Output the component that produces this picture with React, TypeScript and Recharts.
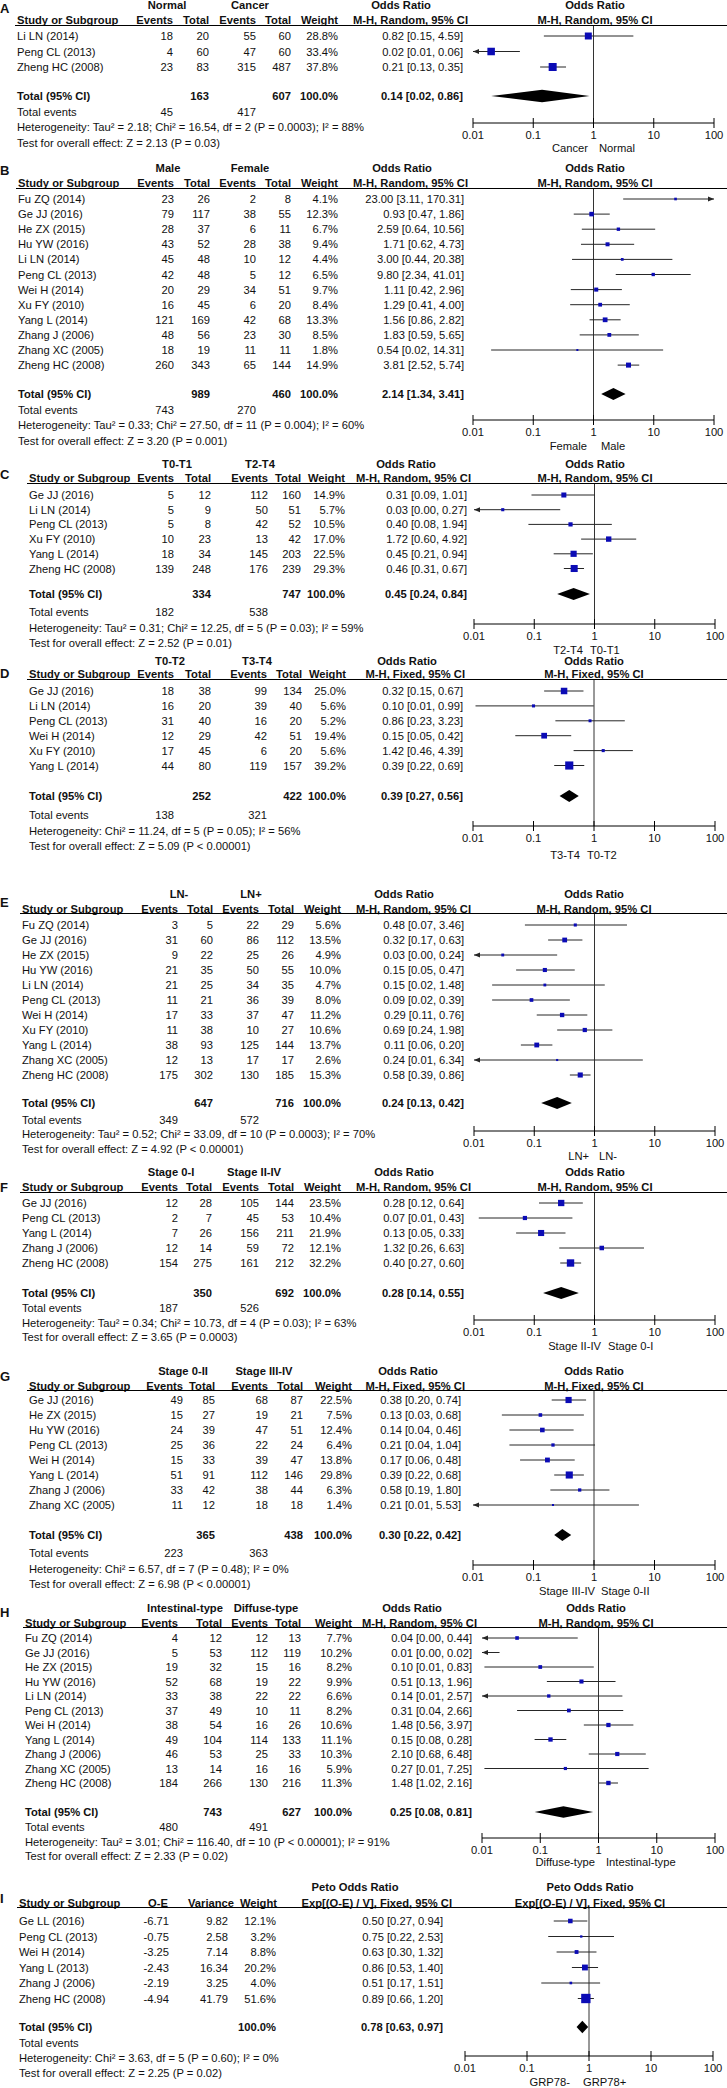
import React from 'react';
import { ScatterChart, Scatter, XAxis, YAxis, ReferenceLine, ReferenceArea } from 'recharts';

const W = 727;
const H = 2088;
const FONT = '"Liberation Sans", Arial, Helvetica, sans-serif';
const FS = 11.2;
const BLUE = '#0b0bb5';
const CI = '#262626';
const TICKS = [0.01, 0.1, 1, 10, 100];

// ---------- Panel A ----------
const A_STUDY = ['Li LN (2014)', 'Peng CL (2013)', 'Zheng HC (2008)'];
const A_E1 = [18, 4, 23];
const A_T1 = [20, 60, 83];
const A_E2 = [55, 47, 315];
const A_T2 = [60, 60, 487];
const A_W = [28.8, 33.4, 37.8];
const A_OR = [0.82, 0.02, 0.21];
const A_LO = [0.15, 0.008, 0.13];
const A_HI = [4.59, 0.06, 0.35];
const A_POOL = [0.14, 0.02, 0.86];
const A_TOT = [163, 607];
const A_TEV = [45, 417];

// ---------- Panel B ----------
const B_STUDY = ['Fu ZQ (2014)', 'Ge JJ (2016)', 'He ZX (2015)', 'Hu YW (2016)', 'Li LN (2014)', 'Peng CL (2013)', 'Wei H (2014)', 'Xu FY (2010)', 'Yang L (2014)', 'Zhang J (2006)', 'Zhang XC (2005)', 'Zheng HC (2008)'];
const B_E1 = [23, 79, 28, 43, 45, 42, 20, 16, 121, 48, 18, 260];
const B_T1 = [26, 117, 37, 52, 48, 48, 29, 45, 169, 56, 19, 343];
const B_E2 = [2, 38, 6, 28, 10, 5, 34, 6, 42, 23, 11, 65];
const B_T2 = [8, 55, 11, 38, 12, 12, 51, 20, 68, 30, 11, 144];
const B_W = [4.1, 12.3, 6.7, 9.4, 4.4, 6.5, 9.7, 8.4, 13.3, 8.5, 1.8, 14.9];
const B_OR = [23.0, 0.93, 2.59, 1.71, 3.0, 9.8, 1.11, 1.29, 1.56, 1.83, 0.54, 3.81];
const B_LO = [3.11, 0.47, 0.64, 0.62, 0.44, 2.34, 0.42, 0.41, 0.86, 0.59, 0.02, 2.52];
const B_HI = [170.31, 1.86, 10.56, 4.73, 20.38, 41.01, 2.96, 4.0, 2.82, 5.65, 14.31, 5.74];
const B_POOL = [2.14, 1.34, 3.41];
const B_TOT = [989, 460];
const B_TEV = [743, 270];

// ---------- Panel C ----------
const C_STUDY = ['Ge JJ (2016)', 'Li LN (2014)', 'Peng CL (2013)', 'Xu FY (2010)', 'Yang L (2014)', 'Zheng HC (2008)'];
const C_E1 = [5, 5, 5, 10, 18, 139];
const C_T1 = [12, 9, 8, 23, 34, 248];
const C_E2 = [112, 50, 42, 13, 145, 176];
const C_T2 = [160, 51, 52, 42, 203, 239];
const C_W = [14.9, 5.7, 10.5, 17.0, 22.5, 29.3];
const C_OR = [0.31, 0.03, 0.4, 1.72, 0.45, 0.46];
const C_LO = [0.09, 0.003, 0.08, 0.6, 0.21, 0.31];
const C_HI = [1.01, 0.27, 1.94, 4.92, 0.94, 0.67];
const C_POOL = [0.45, 0.24, 0.84];
const C_TOT = [334, 747];
const C_TEV = [182, 538];

// ---------- Panel D ----------
const D_STUDY = ['Ge JJ (2016)', 'Li LN (2014)', 'Peng CL (2013)', 'Wei H (2014)', 'Xu FY (2010)', 'Yang L (2014)'];
const D_E1 = [18, 16, 31, 12, 17, 44];
const D_T1 = [38, 20, 40, 29, 45, 80];
const D_E2 = [99, 39, 16, 42, 6, 119];
const D_T2 = [134, 40, 20, 51, 20, 157];
const D_W = [25.0, 5.6, 5.2, 19.4, 5.6, 39.2];
const D_OR = [0.32, 0.1, 0.86, 0.15, 1.42, 0.39];
const D_LO = [0.15, 0.011, 0.23, 0.05, 0.46, 0.22];
const D_HI = [0.67, 0.99, 3.23, 0.42, 4.39, 0.69];
const D_POOL = [0.39, 0.27, 0.56];
const D_TOT = [252, 422];
const D_TEV = [138, 321];

// ---------- Panel E ----------
const E_STUDY = ['Fu ZQ (2014)', 'Ge JJ (2016)', 'He ZX (2015)', 'Hu YW (2016)', 'Li LN (2014)', 'Peng CL (2013)', 'Wei H (2014)', 'Xu FY (2010)', 'Yang L (2014)', 'Zhang XC (2005)', 'Zheng HC (2008)'];
const E_E1 = [3, 31, 9, 21, 21, 11, 17, 11, 38, 12, 175];
const E_T1 = [5, 60, 22, 35, 25, 21, 33, 38, 93, 13, 302];
const E_E2 = [22, 86, 25, 50, 34, 36, 37, 10, 125, 17, 130];
const E_T2 = [29, 112, 26, 55, 35, 39, 47, 27, 144, 17, 185];
const E_W = [5.6, 13.5, 4.9, 10.0, 4.7, 8.0, 11.2, 10.6, 13.7, 2.6, 15.3];
const E_OR = [0.48, 0.32, 0.03, 0.15, 0.15, 0.09, 0.29, 0.69, 0.11, 0.24, 0.58];
const E_LO = [0.07, 0.17, 0.003, 0.05, 0.02, 0.02, 0.11, 0.24, 0.06, 0.008, 0.39];
const E_HI = [3.46, 0.63, 0.24, 0.47, 1.48, 0.39, 0.76, 1.98, 0.2, 6.34, 0.86];
const E_POOL = [0.24, 0.13, 0.42];
const E_TOT = [647, 716];
const E_TEV = [349, 572];

// ---------- Panel F ----------
const F_STUDY = ['Ge JJ (2016)', 'Peng CL (2013)', 'Yang L (2014)', 'Zhang J (2006)', 'Zheng HC (2008)'];
const F_E1 = [12, 2, 7, 12, 154];
const F_T1 = [28, 7, 26, 14, 275];
const F_E2 = [105, 45, 156, 59, 161];
const F_T2 = [144, 53, 211, 72, 212];
const F_W = [23.5, 10.4, 21.9, 12.1, 32.2];
const F_OR = [0.28, 0.07, 0.13, 1.32, 0.4];
const F_LO = [0.12, 0.012, 0.05, 0.26, 0.27];
const F_HI = [0.64, 0.43, 0.33, 6.63, 0.6];
const F_POOL = [0.28, 0.14, 0.55];
const F_TOT = [350, 692];
const F_TEV = [187, 526];

// ---------- Panel G ----------
const G_STUDY = ['Ge JJ (2016)', 'He ZX (2015)', 'Hu YW (2016)', 'Peng CL (2013)', 'Wei H (2014)', 'Yang L (2014)', 'Zhang J (2006)', 'Zhang XC (2005)'];
const G_E1 = [49, 15, 24, 25, 15, 51, 33, 11];
const G_T1 = [85, 27, 39, 36, 33, 91, 42, 12];
const G_E2 = [68, 19, 47, 22, 39, 112, 38, 18];
const G_T2 = [87, 21, 51, 24, 47, 146, 44, 18];
const G_W = [22.5, 7.5, 12.4, 6.4, 13.8, 29.8, 6.3, 1.4];
const G_OR = [0.38, 0.13, 0.14, 0.21, 0.17, 0.39, 0.58, 0.21];
const G_LO = [0.2, 0.03, 0.04, 0.04, 0.06, 0.22, 0.19, 0.008];
const G_HI = [0.74, 0.68, 0.46, 1.04, 0.48, 0.68, 1.8, 5.53];
const G_POOL = [0.3, 0.22, 0.42];
const G_TOT = [365, 438];
const G_TEV = [223, 363];

// ---------- Panel H ----------
const H_STUDY = ['Fu ZQ (2014)', 'Ge JJ (2016)', 'He ZX (2015)', 'Hu YW (2016)', 'Li LN (2014)', 'Peng CL (2013)', 'Wei H (2014)', 'Yang L (2014)', 'Zhang J (2006)', 'Zhang XC (2005)', 'Zheng HC (2008)'];
const H_E1 = [4, 5, 19, 52, 33, 37, 38, 49, 46, 13, 184];
const H_T1 = [12, 53, 32, 68, 38, 49, 54, 104, 53, 14, 266];
const H_E2 = [12, 112, 15, 19, 22, 10, 16, 114, 25, 16, 130];
const H_T2 = [13, 119, 16, 22, 22, 11, 26, 133, 33, 16, 216];
const H_W = [7.7, 10.2, 8.2, 9.9, 6.6, 8.2, 10.6, 11.1, 10.3, 5.9, 11.3];
const H_OR = [0.04, 0.009, 0.1, 0.51, 0.14, 0.31, 1.48, 0.15, 2.1, 0.27, 1.48];
const H_LO = [0.003, 0.002, 0.011, 0.13, 0.008, 0.04, 0.56, 0.08, 0.68, 0.011, 1.02];
const H_HI = [0.44, 0.02, 0.83, 1.96, 2.57, 2.66, 3.97, 0.28, 6.48, 7.25, 2.16];
const H_POOL = [0.25, 0.08, 0.81];
const H_TOT = [743, 627];
const H_TEV = [480, 491];

// ---------- Panel I (Peto) ----------
const I_STUDY = ['Ge LL (2016)', 'Peng CL (2013)', 'Wei H (2014)', 'Yang L (2013)', 'Zhang J (2006)', 'Zheng HC (2008)'];
const I_OE = [-6.71, -0.75, -3.25, -2.43, -2.19, -4.94];
const I_VAR = [9.82, 2.58, 7.14, 16.34, 3.25, 41.79];
const I_W = [12.1, 3.2, 8.8, 20.2, 4.0, 51.6];
const I_OR = [0.5, 0.75, 0.63, 0.86, 0.51, 0.89];
const I_LO = [0.27, 0.22, 0.3, 0.53, 0.17, 0.66];
const I_HI = [0.94, 2.53, 1.32, 1.4, 1.51, 1.2];
const I_POOL = [0.78, 0.63, 0.97];

const f2 = (v: number) => v.toFixed(2);
const orText = (o: number, l: number, h: number) => `${f2(o)} [${f2(l)}, ${f2(h)}]`;
const pct = (w: number) => `${w.toFixed(1)}%`;

type PanelData = {
  letter: string;
  groups: string[];
  orTitle: string;
  method: string;
  heads: string[];
  study: string[];
  cells: string[][];
  weights: number[];
  ors: number[];
  lows: number[];
  highs: number[];
  totalCells: string[];
  eventCells: string[];
  pool: number[];
  het: string;
  test: string;
  left: string;
  right: string;
};

function mh(
  letter: string, g1: string, g2: string, method: string, study: string[],
  e1: number[], t1: number[], e2: number[], t2: number[], w: number[],
  or: number[], lo: number[], hi: number[], pool: number[], tot: number[], tev: number[],
  het: string, test: string, left: string, right: string
): PanelData {
  return {
    letter, groups: [g1, g2], orTitle: 'Odds Ratio', method,
    heads: ['Events', 'Total', 'Events', 'Total', 'Weight'],
    study,
    cells: study.map((_, i) => [String(e1[i]), String(t1[i]), String(e2[i]), String(t2[i]), pct(w[i])]),
    weights: w, ors: or, lows: lo, highs: hi,
    totalCells: ['', String(tot[0]), '', String(tot[1]), '100.0%'],
    eventCells: [String(tev[0]), '', String(tev[1]), '', ''],
    pool, het, test, left, right,
  };
}

const RND = 'M-H, Random, 95% CI';
const FIX = 'M-H, Fixed, 95% CI';

const DATA: PanelData[] = [
  mh('A', 'Normal', 'Cancer', RND, A_STUDY, A_E1, A_T1, A_E2, A_T2, A_W, A_OR, A_LO, A_HI, A_POOL, A_TOT, A_TEV,
    'Heterogeneity: Tau² = 2.18; Chi² = 16.54, df = 2 (P = 0.0003); I² = 88%', 'Test for overall effect: Z = 2.13 (P = 0.03)', 'Cancer', 'Normal'),
  mh('B', 'Male', 'Female', RND, B_STUDY, B_E1, B_T1, B_E2, B_T2, B_W, B_OR, B_LO, B_HI, B_POOL, B_TOT, B_TEV,
    'Heterogeneity: Tau² = 0.33; Chi² = 27.50, df = 11 (P = 0.004); I² = 60%', 'Test for overall effect: Z = 3.20 (P = 0.001)', 'Female', 'Male'),
  mh('C', 'T0-T1', 'T2-T4', RND, C_STUDY, C_E1, C_T1, C_E2, C_T2, C_W, C_OR, C_LO, C_HI, C_POOL, C_TOT, C_TEV,
    'Heterogeneity: Tau² = 0.31; Chi² = 12.25, df = 5 (P = 0.03); I² = 59%', 'Test for overall effect: Z = 2.52 (P = 0.01)', 'T2-T4', 'T0-T1'),
  mh('D', 'T0-T2', 'T3-T4', FIX, D_STUDY, D_E1, D_T1, D_E2, D_T2, D_W, D_OR, D_LO, D_HI, D_POOL, D_TOT, D_TEV,
    'Heterogeneity: Chi² = 11.24, df = 5 (P = 0.05); I² = 56%', 'Test for overall effect: Z = 5.09 (P < 0.00001)', 'T3-T4', 'T0-T2'),
  mh('E', 'LN-', 'LN+', RND, E_STUDY, E_E1, E_T1, E_E2, E_T2, E_W, E_OR, E_LO, E_HI, E_POOL, E_TOT, E_TEV,
    'Heterogeneity: Tau² = 0.52; Chi² = 33.09, df = 10 (P = 0.0003); I² = 70%', 'Test for overall effect: Z = 4.92 (P < 0.00001)', 'LN+', 'LN-'),
  mh('F', 'Stage 0-I', 'Stage II-IV', RND, F_STUDY, F_E1, F_T1, F_E2, F_T2, F_W, F_OR, F_LO, F_HI, F_POOL, F_TOT, F_TEV,
    'Heterogeneity: Tau² = 0.34; Chi² = 10.73, df = 4 (P = 0.03); I² = 63%', 'Test for overall effect: Z = 3.65 (P = 0.0003)', 'Stage II-IV', 'Stage 0-I'),
  mh('G', 'Stage 0-II', 'Stage III-IV', FIX, G_STUDY, G_E1, G_T1, G_E2, G_T2, G_W, G_OR, G_LO, G_HI, G_POOL, G_TOT, G_TEV,
    'Heterogeneity: Chi² = 6.57, df = 7 (P = 0.48); I² = 0%', 'Test for overall effect: Z = 6.98 (P < 0.00001)', 'Stage III-IV', 'Stage 0-II'),
  mh('H', 'Intestinal-type', 'Diffuse-type', RND, H_STUDY, H_E1, H_T1, H_E2, H_T2, H_W, H_OR, H_LO, H_HI, H_POOL, H_TOT, H_TEV,
    'Heterogeneity: Tau² = 3.01; Chi² = 116.40, df = 10 (P < 0.00001); I² = 91%', 'Test for overall effect: Z = 2.33 (P = 0.02)', 'Diffuse-type', 'Intestinal-type'),
  {
    letter: 'I', groups: [], orTitle: 'Peto Odds Ratio', method: 'Exp[(O-E) / V], Fixed, 95% CI',
    heads: ['O-E', 'Variance', 'Weight'],
    study: I_STUDY,
    cells: I_STUDY.map((_, i) => [f2(I_OE[i]), f2(I_VAR[i]), pct(I_W[i])]),
    weights: I_W, ors: I_OR, lows: I_LO, highs: I_HI,
    totalCells: ['', '', '100.0%'],
    eventCells: ['', '', ''],
    pool: I_POOL,
    het: 'Heterogeneity: Chi² = 3.63, df = 5 (P = 0.60); I² = 0%',
    test: 'Test for overall effect: Z = 2.25 (P = 0.02)',
    left: 'GRP78-', right: 'GRP78+',
  },
];

type Layout = {
  letterY: number; hdrY: number; subY: number; lineY: number; row0: number; step: number;
  totalY: number; teY: number; hetY: number; testY: number; axisY: number; sideY: number;
  studyX: number; colX: number[]; headX?: number[]; orRight: number; g: number[];
  orHdr: number; mhRight: number; rh: number; x0: number; x1: number; lx: number; rx: number;
};

const LAYOUTS: Layout[] = [
  { letterY: 8, hdrY: 5, subY: 20, lineY: 25, row0: 36, step: 15.5, totalY: 96, teY: 112, hetY: 127, testY: 143, axisY: 123, sideY: 148,
    studyX: 17, colX: [173, 209, 256, 291, 338], orRight: 463, g: [167, 250], orHdr: 401, mhRight: 468, rh: 595, x0: 473, x1: 714, lx: 588, rx: 599 },
  { letterY: 170, hdrY: 168, subY: 183, lineY: 188, row0: 199, step: 15.1, totalY: 394, teY: 410, hetY: 425, testY: 441, axisY: 420, sideY: 446,
    studyX: 18, colX: [174, 210, 256, 291, 338], orRight: 464, g: [168, 250], orHdr: 402, mhRight: 468, rh: 595, x0: 473, x1: 714, lx: 587, rx: 601 },
  { letterY: 474, hdrY: 464, subY: 478, lineY: 483, row0: 495, step: 14.7, totalY: 594, teY: 612, hetY: 628, testY: 643, axisY: 624, sideY: 650,
    studyX: 29, colX: [174, 211, 268, 301, 345], orRight: 467, g: [177, 260], orHdr: 406, mhRight: 471, rh: 595, x0: 474, x1: 715, lx: 583, rx: 590 },
  { letterY: 673, hdrY: 661, subY: 674, lineY: 679, row0: 691, step: 14.9, totalY: 796, teY: 815, hetY: 831, testY: 846, axisY: 826, sideY: 855,
    studyX: 29, colX: [174, 211, 267, 302, 346], orRight: 463, g: [170, 257], orHdr: 407, mhRight: 465, rh: 594, x0: 473, x1: 715, lx: 580, rx: 587 },
  { letterY: 902, hdrY: 894, subY: 909, lineY: 913, row0: 925, step: 15, totalY: 1103, teY: 1120, hetY: 1134, testY: 1149, axisY: 1131, sideY: 1156,
    studyX: 22, colX: [178, 213, 259, 294, 341], orRight: 464, g: [179, 251], orHdr: 404, mhRight: 471, rh: 594, x0: 474, x1: 715, lx: 589, rx: 599 },
  { letterY: 1187, hdrY: 1172, subY: 1187, lineY: 1192, row0: 1203, step: 15, totalY: 1293, teY: 1308, hetY: 1323, testY: 1337, axisY: 1320, sideY: 1346,
    studyX: 22, colX: [178, 212, 259, 294, 341], orRight: 464, g: [171, 254], orHdr: 404, mhRight: 471, rh: 595, x0: 474, x1: 715, lx: 601, rx: 608 },
  { letterY: 1376, hdrY: 1371, subY: 1386, lineY: 1390, row0: 1400, step: 15, totalY: 1535, teY: 1553, hetY: 1569, testY: 1584, axisY: 1565, sideY: 1591,
    studyX: 29, colX: [183, 215, 268, 303, 352], orRight: 461, g: [183, 264], orHdr: 408, mhRight: 465, rh: 594, x0: 473, x1: 715, lx: 595, rx: 601 },
  { letterY: 1612, hdrY: 1608, subY: 1623, lineY: 1627, row0: 1638, step: 14.5, totalY: 1812, teY: 1827, hetY: 1842, testY: 1856, axisY: 1838, sideY: 1862,
    studyX: 25, colX: [178, 222, 268, 301, 352], orRight: 472, g: [185, 266], orHdr: 412, mhRight: 477, rh: 596, x0: 482, x1: 715, lx: 595, rx: 606 },
  { letterY: 1898, hdrY: 1887, subY: 1903, lineY: 1907, row0: 1921, step: 15.5, totalY: 2027, teY: 2043, hetY: 2058, testY: 2073, axisY: 2056, sideY: 2082,
    studyX: 19, colX: [169, 228, 276], headX: [168, 234, 277], orRight: 443, g: [], orHdr: 355, mhRight: 452, rh: 590, x0: 465, x1: 713, lx: 570, rx: 583 },
];

const LogTick = (p: any) => {
  const { x, y, payload } = p;
  return (
    <g>
      <line x1={x} x2={x} y1={y - 5} y2={y + 5} stroke="#000" strokeWidth={1} />
      <text x={x} y={y + 16} textAnchor="middle" fontSize={FS} fontFamily={FONT} fill="#111">
        {String(payload.value)}
      </text>
    </g>
  );
};

const Square = (p: any) => {
  const s = Math.max(2, 1.3 * Math.sqrt(p.payload.w));
  return <rect x={p.cx - s / 2} y={p.cy - s / 2} width={s} height={s} fill={BLUE} />;
};

const Arrow = (p: any) => {
  const { cx, cy, payload } = p;
  const d = payload.dir;
  return <polygon points={`${cx},${cy} ${cx - d * 6},${cy - 2.5} ${cx - d * 6},${cy + 2.5}`} fill={CI} />;
};

function PanelChart({ d, L }: { d: PanelData; L: Layout }) {
  const plotH = L.axisY - L.lineY;
  const top = -(L.row0 - L.lineY) / L.step;
  const bottom = (L.axisY - L.row0) / L.step;
  const ti = (L.totalY - L.row0) / L.step;
  const clamp = (v: number) => Math.min(100, Math.max(0.01, v));
  const squares = d.ors
    .map((o, i) => ({ x: o, y: i, w: d.weights[i] }))
    .filter((p) => p.x >= 0.01 && p.x <= 100);
  const arrows: { x: number; y: number; dir: number }[] = [];
  d.lows.forEach((l, i) => { if (l < 0.01) arrows.push({ x: 0.01, y: i, dir: -1 }); });
  d.highs.forEach((h, i) => { if (h > 100) arrows.push({ x: 100, y: i, dir: 1 }); });
  const [po, pl, ph] = d.pool;
  const frac = (Math.log(po) - Math.log(pl)) / (Math.log(ph) - Math.log(pl));
  const Diamond = (p: any) => {
    const { x, y, width, height } = p;
    const cx = x + width * frac;
    return (
      <polygon
        points={`${x},${y + height / 2} ${cx},${y} ${x + width},${y + height / 2} ${cx},${y + height}`}
        fill="#000"
      />
    );
  };
  const chartH = plotH + 40;
  return (
    <div style={{ position: 'absolute', left: 0, top: L.lineY, width: W, height: chartH }}>
      <ScatterChart width={W} height={chartH} margin={{ top: 0, right: W - L.x1, bottom: 0, left: L.x0 }}>
        <XAxis
          type="number" dataKey="x" scale="log" domain={[0.01, 100]} allowDataOverflow
          ticks={TICKS} interval={0} height={40} tickSize={0} tickMargin={0} tickLine={false}
          axisLine={{ stroke: '#000', strokeWidth: 1 }} tick={(p: any) => <LogTick {...p} />}
        />
        <YAxis type="number" dataKey="y" domain={[top, bottom]} allowDataOverflow reversed hide width={0} />
        <ReferenceLine x={1} stroke="#333" strokeWidth={1} ifOverflow="visible" />
        {d.ors.map((_, i) => (
          <ReferenceLine
            key={i}
            segment={[{ x: clamp(d.lows[i]), y: i }, { x: clamp(d.highs[i]), y: i }]}
            stroke={CI}
            strokeWidth={1}
            ifOverflow="visible"
          />
        ))}
        <ReferenceArea x1={pl} x2={ph} y1={ti - 0.4} y2={ti + 0.4} shape={Diamond} ifOverflow="visible" />
        <Scatter data={squares} shape={Square} isAnimationActive={false} />
        <Scatter data={arrows} shape={Arrow} isAnimationActive={false} />
      </ScatterChart>
    </div>
  );
}

function PanelText({ d, L }: { d: PanelData; L: Layout }) {
  const b = (cy: number) => cy + 4;
  const yRow = (i: number) => L.row0 + i * L.step;
  const headX = L.headX || L.colX;
  return (
    <g fontFamily={FONT} fontSize={FS} fill="#111">
      <text x={0} y={L.letterY + 4.7} fontSize={13} fontWeight="bold">{d.letter}</text>
      {d.groups.map((g, k) => (
        <text key={k} x={L.g[k]} y={b(L.hdrY)} textAnchor="middle" fontWeight="bold">{g}</text>
      ))}
      <text x={L.orHdr} y={b(L.hdrY)} textAnchor="middle" fontWeight="bold">{d.orTitle}</text>
      <text x={L.rh} y={b(L.hdrY)} textAnchor="middle" fontWeight="bold">{d.orTitle}</text>
      <text x={L.studyX} y={b(L.subY)} fontWeight="bold">Study or Subgroup</text>
      {d.heads.map((h, k) => (
        <text key={k} x={headX[k]} y={b(L.subY)} textAnchor="end" fontWeight="bold">{h}</text>
      ))}
      <text x={L.mhRight} y={b(L.subY)} textAnchor="end" fontWeight="bold">{d.method}</text>
      <text x={L.rh} y={b(L.subY)} textAnchor="middle" fontWeight="bold">{d.method}</text>
      <line x1={L.studyX - 2} x2={W} y1={L.lineY + 0.5} y2={L.lineY + 0.5} stroke="#000" strokeWidth={1} />
      {d.study.map((s, i) => (
        <g key={i}>
          <text x={L.studyX} y={b(yRow(i))}>{s}</text>
          {d.cells[i].map((c, k) => (
            <text key={k} x={L.colX[k]} y={b(yRow(i))} textAnchor="end">{c}</text>
          ))}
          <text x={L.orRight} y={b(yRow(i))} textAnchor="end">{orText(d.ors[i], d.lows[i], d.highs[i])}</text>
        </g>
      ))}
      <g fontWeight="bold">
        <text x={L.studyX} y={b(L.totalY)}>Total (95% CI)</text>
        {d.totalCells.map((c, k) => (c ? <text key={k} x={L.colX[k]} y={b(L.totalY)} textAnchor="end">{c}</text> : null))}
        <text x={L.orRight} y={b(L.totalY)} textAnchor="end">{orText(d.pool[0], d.pool[1], d.pool[2])}</text>
      </g>
      <text x={L.studyX} y={b(L.teY)}>Total events</text>
      {d.eventCells.map((c, k) => (c ? <text key={k} x={L.colX[k]} y={b(L.teY)} textAnchor="end">{c}</text> : null))}
      <text x={L.studyX} y={b(L.hetY)}>{d.het}</text>
      <text x={L.studyX} y={b(L.testY)}>{d.test}</text>
      <text x={L.lx} y={b(L.sideY)} textAnchor="end">{d.left}</text>
      <text x={L.rx} y={b(L.sideY)}>{d.right}</text>
    </g>
  );
}

export default function App() {
  return (
    <div style={{ position: 'absolute', left: 0, top: 0, width: W, height: H, background: '#fff', overflow: 'hidden' }}>
      {DATA.map((d, k) => <PanelChart key={k} d={d} L={LAYOUTS[k]} />)}
      <svg width={W} height={H} style={{ position: 'absolute', left: 0, top: 0, pointerEvents: 'none' }}>
        {DATA.map((d, k) => <PanelText key={k} d={d} L={LAYOUTS[k]} />)}
      </svg>
    </div>
  );
}
